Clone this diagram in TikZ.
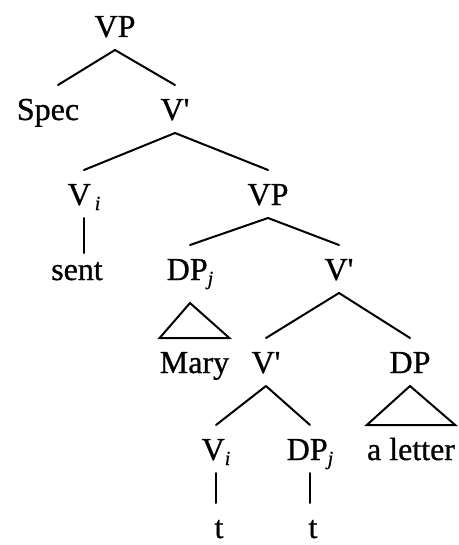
\documentclass[tikz,border=0pt]{standalone}
\usepackage{fontspec}
\setmainfont[FakeBold=0.8]{Liberation Serif}
\usepackage{tikz}
\newcommand\primemark{\textquotesingle}
\newcommand\subidx[1]{\raisebox{-5pt}{\fontsize{20}{20}\selectfont\itshape #1}}
\tikzset{
	lab/.style={anchor=base, inner sep=0pt, outer ysep=13pt, text height=22pt, text depth=0pt, font=\fontsize{32}{32}\selectfont},
	branch/.style={line width=2pt, line cap=round, line join=miter},
}

\begin{document}
\begin{tikzpicture}[x=1pt, y=-1pt]
			%%%%% START %%%%%
			\useasboundingbox (0, 0) rectangle (458, 545);
			
			\node[lab] (vpa) at (115, 37) {VP};
			\node[lab] (spec) at (48, 120) {Spec};
			\node[lab] (vba) at (175, 120) {V\primemark};
			
			\node[lab] (via) at (84, 205) {V\hspace{4pt}\subidx{i}};
			\node[lab] (vpb) at (268, 205) {VP};
			
			\node[lab] (sent) at (77, 280) {sent};
			\node[lab] (dpa) at (190, 280) {DP\subidx{j}};
			\node[lab] (vbb) at (339, 280) {V\primemark};
			
			\node[lab] (mary) at (194.5, 373) {Mary};
			\node[lab] (vbc) at (266, 373) {V\primemark};
			\node[lab] (dpc) at (410, 373) {DP};
			
			\node[lab] (vib) at (216, 460) {V\subidx{i}};
			\node[lab] (dpb) at (310, 460) {DP\subidx{j}};
			\node[lab] (letter) at (411, 460) {a letter};
			
			\node[lab] (ta) at (219, 538) {t};
			\node[lab] (tb) at (313, 538) {t};
			
			% branches
			\draw[branch] (vpa.south) -- ([xshift=10pt]spec.north);
			\draw[branch] (vpa.south) -- (vba.north);
			\draw[branch] (vba.south) -- (via.north);
			\draw[branch] (vba.south) -- (vpb.north);
			\draw[branch] (via.south) -- ([yshift=-8pt]via.south |- sent.north);
			\draw[branch] (vpb.south) -- (dpa.north);
			\draw[branch] (vpb.south) -- (vbb.north);
			\draw[branch] (vbb.south) -- (vbc.north);
			\draw[branch] (vbb.south) -- (dpc.north);
			\draw[branch] (vbc.south) -- (vib.north);
			\draw[branch] (vbc.south) -- (dpb.north);
			\draw[branch] (vib.south) -- (vib.south |- ta.north);
			\draw[branch] (dpb.south) -- (dpb.south |- tb.north);
			
			% triangles
			\draw[branch] ([yshift=-10pt]dpa.south) -- (mary.north east) -- (mary.north west) -- cycle;
			\draw[branch] (dpc.south) -- (letter.north east) -- (letter.north west) -- cycle;
			
			%%%%% END %%%%%
\end{tikzpicture}
\end{document}
